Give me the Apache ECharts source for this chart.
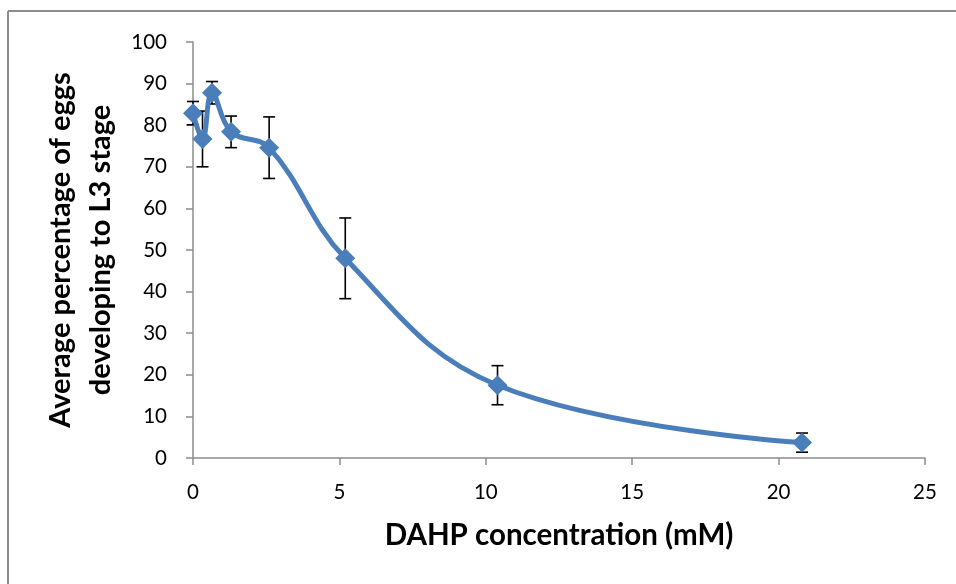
<!DOCTYPE html>
<html>
<head>
<meta charset="utf-8">
<script src="https://cdn.jsdelivr.net/npm/echarts@6/dist/echarts.min.js"></script>
<style>html,body{margin:0;padding:0;background:#fff;}#c{width:956px;height:584px;}</style>
</head>
<body>
<div id="c"></div>
<script>
var concentrations = [0, 0.325, 0.65, 1.3, 2.6, 5.2, 10.4, 20.8];
var meanPercent = [82.9, 76.7, 87.8, 78.4, 74.6, 48.0, 17.5, 3.7];
var errorPercent = [2.8, 6.7, 2.7, 3.8, 7.4, 9.7, 4.7, 2.3];
var xTicks = [0, 5, 10, 15, 20, 25];
var yTicks = [0, 10, 20, 30, 40, 50, 60, 70, 80, 90, 100];

var lineData = concentrations.map(function (x, i) { return [x, meanPercent[i]]; });
var errData = concentrations.map(function (x, i) { return [x, meanPercent[i] - errorPercent[i], meanPercent[i] + errorPercent[i]]; });

var chart = echarts.init(document.getElementById('c'), null, {renderer: 'canvas'});
var font = 'Lato, "Open Sans", sans-serif';
chart.setOption({
  animation: false,
  backgroundColor: '#fff',
  grid: {left: 193, right: 31, top: 42, bottom: 126},
  graphic: [
    {type: 'line', shape: {x1: 8, y1: 11, x2: 956, y2: 11}, style: {stroke: '#8c8c8c', lineWidth: 2}},
    {type: 'line', shape: {x1: 8, y1: 11, x2: 8, y2: 584}, style: {stroke: '#8c8c8c', lineWidth: 2}}
  ],
  xAxis: {
    type: 'value', min: xTicks[0], max: xTicks[xTicks.length - 1], interval: 5,
    name: 'DAHP concentration (mM)', nameLocation: 'middle', nameGap: 62,
    nameTextStyle: {fontFamily: font, fontWeight: 'bold', fontSize: 29.5, color: '#000'},
    axisLine: {lineStyle: {color: '#8c8c8c', width: 1.5}},
    axisTick: {show: true, length: 7, lineStyle: {color: '#8c8c8c', width: 1.5}},
    axisLabel: {fontFamily: font, fontSize: 20.5, color: '#000', margin: 24},
    splitLine: {show: false}
  },
  yAxis: {
    type: 'value', min: yTicks[0], max: yTicks[yTicks.length - 1], interval: 10,
    name: 'Average percentage of eggs\ndeveloping to L3 stage', nameLocation: 'middle', nameGap: 67,
    nameTextStyle: {fontFamily: font, fontWeight: 'bold', fontSize: 29, color: '#000', lineHeight: 40},
    axisLine: {show: true, lineStyle: {color: '#8c8c8c', width: 1.5}},
    axisTick: {show: true, length: 7, lineStyle: {color: '#8c8c8c', width: 1.5}},
    axisLabel: {fontFamily: font, fontSize: 20.5, color: '#000', margin: 26},
    splitLine: {show: false}
  },
  series: [
    {
      type: 'custom', z: 1,
      data: errData,
      encode: {x: 0, y: [1, 2]},
      renderItem: function (params, api) {
        var x = api.value(0);
        var lo = api.coord([x, api.value(1)]);
        var hi = api.coord([x, api.value(2)]);
        var w = 6;
        var st = {stroke: '#000', lineWidth: 1.6};
        return {type: 'group', children: [
          {type: 'line', shape: {x1: lo[0], y1: lo[1], x2: hi[0], y2: hi[1]}, style: st},
          {type: 'line', shape: {x1: lo[0] - w, y1: lo[1], x2: lo[0] + w, y2: lo[1]}, style: st},
          {type: 'line', shape: {x1: hi[0] - w, y1: hi[1], x2: hi[0] + w, y2: hi[1]}, style: st}
        ]};
      }
    },
    {
      type: 'line', z: 5,
      data: lineData,
      smooth: 0.4,
      symbol: 'diamond', symbolSize: 20,
      lineStyle: {color: '#4A7EBB', width: 5},
      itemStyle: {color: '#4A7EBB'}
    }
  ]
});
</script>
</body>
</html>
